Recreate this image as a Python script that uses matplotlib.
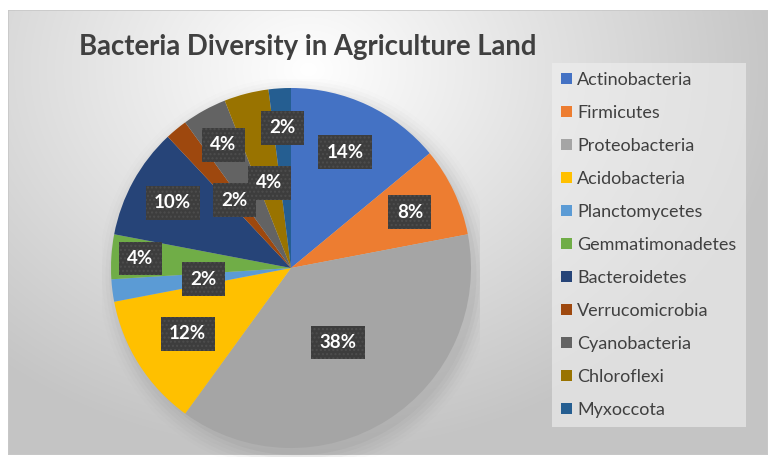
import numpy as np
import matplotlib
matplotlib.use("Agg")
import matplotlib.pyplot as plt
from matplotlib.patches import Rectangle

# data
labels = ["Actinobacteria", "Firmicutes", "Proteobacteria", "Acidobacteria",
          "Planctomycetes", "Gemmatimonadetes", "Bacteroidetes",
          "Verrucomicrobia", "Cyanobacteria", "Chloroflexi", "Myxoccota"]
values = [14, 8, 38, 12, 2, 4, 10, 2, 4, 4, 2]
colors = ["#4472C4", "#ED7D31", "#A5A5A5", "#FFC000", "#5B9BD5", "#70AD47",
          "#264478", "#9E480E", "#636363", "#997300", "#255E91"]
# where each label sits along its wedge (fraction of radius)
label_r = [0.71, 0.73, 0.49, 0.68, 0.49, 0.84, 0.75, 0.49, 0.78, 0.49, 0.78]

plt.rcParams['font.family'] = ['Lato', 'DejaVu Sans']

W, H = 769, 465
fig = plt.figure(figsize=(W / 100, H / 100), dpi=100)

# background gradient for chart area
bg = fig.add_axes([8 / W, 10 / H, 760 / W, 445 / H])
yy, xx = np.mgrid[0:445, 0:760]
d = np.sqrt(((xx - 300) / 500.0) ** 2 + ((yy - 60) / 400.0) ** 2)
shade = np.clip(1.0 - 0.24 * d, 0.77, 1.0)
bg.imshow(np.dstack([shade] * 3), aspect='auto', extent=[0, 760, 445, 0])
bg.set_xlim(0, 760)
bg.set_ylim(445, 0)
bg.axis('off')
bg.add_patch(Rectangle((0, 0), 760, 445, fill=False, ec='#c8c8c8', lw=1.2))

# pie
cx, cy, R = 291, 268, 180
ax = fig.add_axes([(cx - R * 1.05) / W, (H - cy - R * 1.05) / H,
                   2 * R * 1.05 / W, 2 * R * 1.05 / H])
ax.set_facecolor('none')

# soft shadow
for i, a in enumerate(np.linspace(0.05, 0.012, 6)):
    ax.add_patch(plt.Circle((0.03, -0.04), 1.0 + 0.02 * i, color='#555555',
                            alpha=a, lw=0, zorder=0))

wedges, _ = ax.pie(values, colors=colors, startangle=90, counterclock=False,
                   radius=1.0, wedgeprops=dict(linewidth=0))
for w in wedges:
    w.set_zorder(2)

total = sum(values)
for w, v, r in zip(wedges, values, label_r):
    ang = np.deg2rad((w.theta1 + w.theta2) / 2)
    ax.text(r * np.cos(ang), r * np.sin(ang), f"{v / total * 100:.0f}%",
            ha='center', va='center', color='white', fontsize=13.5,
            fontweight='bold', zorder=5,
            bbox=dict(boxstyle='square,pad=0.45', fc='#3d3d3d', ec='#4d4d4d',
                      lw=0, hatch='....'))
ax.set_xlim(-1.05, 1.05)
ax.set_ylim(-1.05, 1.05)

fig.text(308 / W, 1 - 47 / H, "Bacteria Diversity in Agriculture Land",
         ha='center', va='center', fontsize=19.8, fontweight='bold',
         color='#404040')

leg = fig.legend(wedges, labels, loc='upper left',
                 bbox_to_anchor=(552 / W, 1 - 63 / H), frameon=True,
                 borderaxespad=0, fontsize=13, handlelength=0.6,
                 handleheight=0.6, handletextpad=0.3, labelspacing=0.94,
                 borderpad=0.5, labelcolor='#404040')
leg.get_frame().set_facecolor('#f0f0f0')
leg.get_frame().set_alpha(0.6)
leg.get_frame().set_edgecolor('none')
leg.get_frame().set_boxstyle('square', pad=0)

fig.savefig("out.png", dpi=100)
